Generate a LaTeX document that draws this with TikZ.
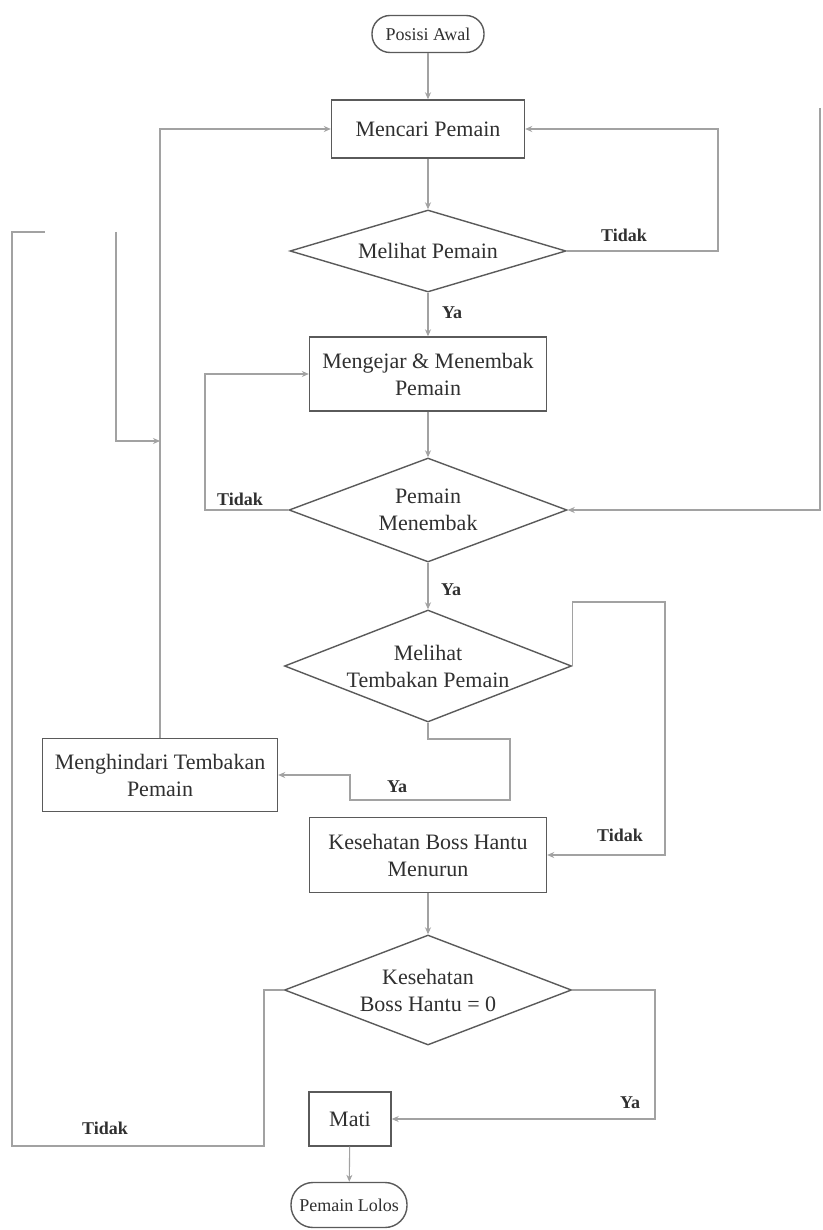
\documentclass[tikz,border=0pt]{standalone}
\usepackage{fontspec}
\setmainfont{Liberation Serif}
\usetikzlibrary{shapes.geometric,arrows.meta}

\definecolor{edge}{HTML}{5A5A5A}
\definecolor{wire}{HTML}{A2A2A2}
\definecolor{ink}{HTML}{303030}

\tikzset{
  box/.style={draw=edge, line width=1.4pt, rectangle, inner sep=0pt, align=center,
    text=ink, font=\fontsize{22}{27}\selectfont},
  term/.style={box, rounded corners=18pt, font=\fontsize{18}{21}\selectfont},
  decision/.style={box, diamond},
  wire/.style={draw=wire, line width=1.1pt},
  flow/.style={wire, -{Stealth[length=7pt,width=6pt]}},
  lbl/.style={text=ink, font=\bfseries\fontsize{18}{21}\selectfont},
}

\begin{document}
\begin{tikzpicture}[x=1pt,y=-1pt]
\useasboundingbox[fill=white] (0,0) rectangle (822,1230);

% main column
\node[term, minimum width=112pt, minimum height=37pt] (start) at (428,34) {Posisi Awal};
\node[box, minimum width=193pt, minimum height=58pt] (cari) at (428,129) {Mencari Pemain};
\node[decision, aspect=3.37, minimum width=276pt, minimum height=82pt] (lihat) at (428,251) {Melihat Pemain};
\node[box, minimum width=237pt, minimum height=74pt] (kejar) at (428,374) {Mengejar \& Menembak\\Pemain};
\node[decision, aspect=2.7, minimum width=278pt, minimum height=104pt] (tembak) at (428,510) {Pemain\\Menembak};
\node[decision, aspect=2.6, minimum width=287pt, minimum height=112pt] (tembakan) at (428,666) {Melihat\\Tembakan Pemain};
\node[box, minimum width=235pt, minimum height=73pt] (hindar) at (160,775) {Menghindari Tembakan\\Pemain};
\node[box, minimum width=237pt, minimum height=75pt] (turun) at (428,855) {Kesehatan Boss Hantu\\Menurun};
\node[decision, aspect=2.6, minimum width=287pt, minimum height=110pt] (nol) at (428,990) {Kesehatan\\Boss Hantu = 0};
\node[box, minimum width=82pt, minimum height=54pt] (mati) at (350,1119) {Mati};
\node[term, minimum width=116pt, minimum height=45pt, rounded corners=22pt] (lolos) at (349,1205) {Pemain Lolos};

% straight flow
\draw[flow] (start) -- (cari);
\draw[flow] (cari) -- (lihat);
\draw[flow] (lihat) -- (kejar);
\draw[flow] (kejar) -- (tembak);
\draw[flow] (tembak) -- (tembakan);
\draw[flow] (turun) -- (nol);
\draw[flow] (mati) -- (lolos);

% right-hand loops
\coordinate (r2) at (718,129);
\draw[flow] (lihat.east) -| (r2) -- (cari.east);
\coordinate (r3) at (820,108);
\draw[flow] (r3) |- (tembak.east);

% back to the chase
\coordinate (l1) at (205,510);
\draw[flow] (tembak.west) -- (l1) |- (kejar.west);

% dodge and search again
\coordinate (l2) at (160,129);
\draw[flow] (hindar.north) -- (l2) -- (cari.west);
\coordinate (l3) at (116,232);
\coordinate (l4) at (160,441);
\draw[flow] (l3) |- (l4);

% seeing a shot
\coordinate (y1) at (510,739);
\coordinate (y2) at (350,800);
\draw[flow] (tembakan.south) |- (y1) |- (y2) |- (hindar.east);
\coordinate (t1) at (665,602);
\draw[flow] (tembakan.east) |- (t1) |- (turun.east);

% health check
\coordinate (n1) at (655,1119);
\draw[flow] (nol.east) -| (n1) -- (mati.east);
\coordinate (k1) at (264,1146);
\coordinate (k2) at (12,232);
\coordinate (k3) at (45,232);
\draw[wire] (nol.west) -| (k1) -| (k2) -- (k3);

% branch labels
\node[lbl] (la) at (624,235) {Tidak};
\node[lbl] (lb) at (452,313) {Ya};
\node[lbl] (lc) at (240,499) {Tidak};
\node[lbl] (ld) at (451,590) {Ya};
\node[lbl] (le) at (397,787) {Ya};
\node[lbl] (lf) at (620,835) {Tidak};
\node[lbl] (lg) at (630,1103) {Ya};
\node[lbl] (lh) at (105,1128) {Tidak};
\end{tikzpicture}
\end{document}
